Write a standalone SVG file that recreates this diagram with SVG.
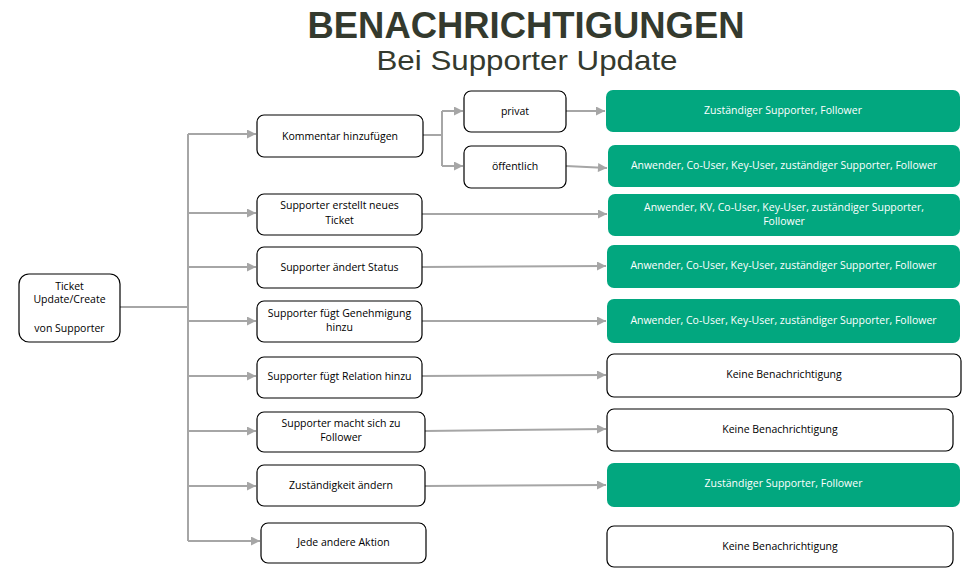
<svg xmlns="http://www.w3.org/2000/svg" width="973" height="572" viewBox="0 0 973 572">
<style>
  .t{font-family:"Open Sans","Liberation Sans",sans-serif;font-size:10.5px;fill:#000;text-anchor:middle}
  .tw{font-family:"Open Sans","Liberation Sans",sans-serif;font-size:10.5px;fill:#fff;text-anchor:middle}
  .box{fill:#fff;stroke:#000;stroke-width:1.2}
  .g{fill:#02a77f;stroke:none}
  .c{fill:none;stroke:#a6a6a6;stroke-width:2}
  .title{font-family:"Liberation Sans","Open Sans",sans-serif;fill:#343a2e;text-anchor:middle}
</style>
<defs>
  <marker id="ah" viewBox="0 0 10 10" refX="10" refY="5" markerWidth="5" markerHeight="4.5" orient="auto" markerUnits="strokeWidth">
    <path d="M0,0 L10,5 L0,10 z" fill="#a6a6a6"/>
  </marker>
</defs>
<rect width="973" height="572" fill="#fff"/>
<g id="title">
  <text class="title" x="526" y="38" font-size="36" font-weight="bold" textLength="437" lengthAdjust="spacingAndGlyphs">BENACHRICHTIGUNGEN</text>
  <text class="title" x="527" y="69.5" font-size="27.5" textLength="301" lengthAdjust="spacingAndGlyphs">Bei Supporter Update</text>
</g>

<g id="connectors">
  <path class="c" d="M120,307 H188" stroke-width="2.5"/>
  <path class="c" d="M188,134 V541"/>
  <path class="c" d="M188,134 H256" marker-end="url(#ah)"/>
  <path class="c" d="M188,213 H256" marker-end="url(#ah)"/>
  <path class="c" d="M188,267 H256" marker-end="url(#ah)"/>
  <path class="c" d="M188,321 H256" marker-end="url(#ah)"/>
  <path class="c" d="M188,376 H256" marker-end="url(#ah)"/>
  <path class="c" d="M188,431 H256" marker-end="url(#ah)"/>
  <path class="c" d="M188,486 H256" marker-end="url(#ah)"/>
  <path class="c" d="M188,541 H260" marker-end="url(#ah)"/>
  <path class="c" d="M423,135 H442"/>
  <path class="c" d="M442,111 V166"/>
  <path class="c" d="M442,111 H463" marker-end="url(#ah)"/>
  <path class="c" d="M442,166 H463" marker-end="url(#ah)"/>
  <path class="c" d="M566,111 H605" marker-end="url(#ah)"/>
  <path class="c" d="M566,166 L607,168" marker-end="url(#ah)"/>
  <path class="c" d="M422,214 H607" marker-end="url(#ah)"/>
  <path class="c" d="M422,267 L606,266" marker-end="url(#ah)"/>
  <path class="c" d="M422,321 H606" marker-end="url(#ah)"/>
  <path class="c" d="M422,376 L606,375" marker-end="url(#ah)"/>
  <path class="c" d="M425,431 L606,429" marker-end="url(#ah)"/>
  <path class="c" d="M425,486 L606,485" marker-end="url(#ah)"/>
</g>

<g id="n-ticket">
  <rect class="box" x="19" y="274" width="101" height="68" rx="10"/>
  <text class="t" x="69.5" y="290">Ticket</text>
  <text class="t" x="69.5" y="303">Update/Create</text>
  <text class="t" x="69.5" y="332">von Supporter</text>
</g>

<g id="n-kommentar">
  <rect class="box" x="257" y="115" width="166" height="42" rx="7"/>
  <text class="t" x="340" y="140">Kommentar hinzufügen</text>
</g>
<g id="n-privat">
  <rect class="box" x="464" y="91" width="102" height="41" rx="7"/>
  <text class="t" x="515" y="115">privat</text>
</g>
<g id="n-oeffentlich">
  <rect class="box" x="464" y="146" width="102" height="42" rx="7"/>
  <text class="t" x="515" y="170">öffentlich</text>
</g>
<g id="n-erstellt">
  <rect class="box" x="257" y="194" width="165" height="41" rx="7"/>
  <text class="t" x="339.5" y="209">Supporter erstellt neues</text>
  <text class="t" x="339.5" y="224">Ticket</text>
</g>
<g id="n-status">
  <rect class="box" x="257" y="247" width="165" height="41" rx="7"/>
  <text class="t" x="339.5" y="271">Supporter ändert Status</text>
</g>
<g id="n-genehmigung">
  <rect class="box" x="257" y="301" width="165" height="41" rx="7"/>
  <text class="t" x="339.5" y="317">Supporter fügt Genehmigung</text>
  <text class="t" x="339.5" y="331">hinzu</text>
</g>
<g id="n-relation">
  <rect class="box" x="257" y="357" width="165" height="41" rx="7"/>
  <text class="t" x="339.5" y="380">Supporter fügt Relation hinzu</text>
</g>
<g id="n-follower">
  <rect class="box" x="257" y="412" width="168" height="40" rx="7"/>
  <text class="t" x="341" y="427">Supporter macht sich zu</text>
  <text class="t" x="341" y="441">Follower</text>
</g>
<g id="n-zustaendigkeit">
  <rect class="box" x="257" y="465" width="168" height="41" rx="7"/>
  <text class="t" x="341" y="489">Zuständigkeit ändern</text>
</g>
<g id="n-andere">
  <rect class="box" x="261" y="523" width="165" height="40" rx="7"/>
  <text class="t" x="343.5" y="546">Jede andere Aktion</text>
</g>

<g id="r-privat">
  <rect class="g" x="606" y="90" width="354" height="42" rx="7"/>
  <text class="tw" x="783" y="114">Zuständiger Supporter, Follower</text>
</g>
<g id="r-oeffentlich">
  <rect class="g" x="608" y="145" width="352" height="42" rx="7"/>
  <text class="tw" x="784" y="169">Anwender, Co-User, Key-User, zuständiger Supporter, Follower</text>
</g>
<g id="r-erstellt">
  <rect class="g" x="608" y="194" width="352" height="42" rx="7"/>
  <text class="tw" x="784" y="211">Anwender, KV, Co-User, Key-User, zuständiger Supporter,</text>
  <text class="tw" x="784" y="225">Follower</text>
</g>
<g id="r-status">
  <rect class="g" x="607" y="245" width="353" height="43" rx="7"/>
  <text class="tw" x="783.5" y="269">Anwender, Co-User, Key-User, zuständiger Supporter, Follower</text>
</g>
<g id="r-genehmigung">
  <rect class="g" x="607" y="299" width="353" height="44" rx="7"/>
  <text class="tw" x="783.5" y="324">Anwender, Co-User, Key-User, zuständiger Supporter, Follower</text>
</g>
<g id="r-relation">
  <rect class="box" x="607" y="354" width="354" height="43" rx="7"/>
  <text class="t" x="784" y="378">Keine Benachrichtigung</text>
</g>
<g id="r-follower">
  <rect class="box" x="607" y="409" width="346" height="42" rx="7"/>
  <text class="t" x="780" y="433">Keine Benachrichtigung</text>
</g>
<g id="r-zustaendigkeit">
  <rect class="g" x="607" y="463" width="353" height="44" rx="7"/>
  <text class="tw" x="783.5" y="487">Zuständiger Supporter, Follower</text>
</g>
<g id="r-andere">
  <rect class="box" x="607" y="526" width="346" height="41" rx="7"/>
  <text class="t" x="780" y="550">Keine Benachrichtigung</text>
</g>
</svg>
